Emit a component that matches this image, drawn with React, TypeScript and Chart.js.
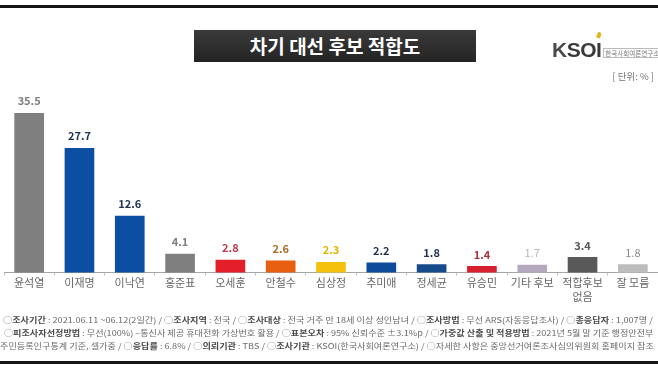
import React, { useEffect, useLayoutEffect, useRef } from "react";
import { Chart, registerables } from "chart.js";

Chart.register(...registerables);

const categories: (string | string[])[] = [
  "윤석열", "이재명", "이낙연", "홍준표", "오세훈", "안철수", "심상정",
  "추미애", "정세균", "유승민", "기타 후보", ["적합후보", "없음"], "잘 모름",
];
const values = [35.5, 27.7, 12.6, 4.1, 2.8, 2.6, 2.3, 2.2, 1.8, 1.4, 1.7, 3.4, 1.8];
const barColors = [
  "#7f7f7f", "#0b4ea2", "#0b4ea2", "#7f7f7f", "#e3202a", "#e8600f", "#f4c20d",
  "#0e4c9b", "#174a8b", "#d7202e", "#b4a9bc", "#595959", "#bdbdbd",
];
const labelColors = [
  "#7f7f7f", "#1f3050", "#1f3050", "#7f7f7f", "#c0394a", "#b06a1e", "#e3b300",
  "#1f3050", "#1f3050", "#b0303e", "#b8b8b8", "#595959", "#8c8c8c",
];
const labelBold = [true, true, true, true, true, true, true, true, true, true, false, true, false];
const yMax = 40;

const titleText = "차기 대선 후보 적합도";
const unitText = "[ 단위: % ]";

type Seg = [string, boolean];
const footerLines: Seg[][] = [
  [
    ["○", false], ["조사기간", true], [" : 2021.06.11 ~06.12(2일간)  /  ○", false],
    ["조사지역", true], [" : 전국 / ○", false], ["조사대상", true],
    [" : 전국 거주 만 18세 이상 성인남녀 / ○", false], ["조사방법", true],
    [" : 무선 ARS(자동응답조사) / ○", false], ["총응답자", true], [" : 1,007명 /", false],
  ],
  [
    ["○", false], ["피조사자선정방법", true], [" : 무선(100%) –통신사 제공 휴대전화 가상번호 활용 / ○", false],
    ["표본오차", true], [" : 95% 신뢰수준 ±3.1%p / ○", false], ["가중값 산출 및 적용방법", true],
    [" : 2021년 5월 말 기준 행정안전부", false],
  ],
  [
    ["주민등록인구통계 기준, 셀가중 / ○", false], ["응답률", true], [" : 6.8% / ○", false],
    ["의뢰기관", true], [" : TBS / ○", false], ["조사기관", true],
    [" : KSOI(한국사회여론연구소) / ○자세한 사항은 중앙선거여론조사심의위원회 홈페이지 참조", false],
  ],
];
const footerLayout = [
  { left: 3, top: 314, width: 650 },
  { left: 4, top: 327, width: 649 },
  { left: 0, top: 340, width: 654 },
];

const FONT = "'Noto Sans CJK KR', 'Noto Sans', sans-serif";

const valueLabelPlugin = {
  id: "valueLabels",
  afterDatasetsDraw(chart: any) {
    const ctx = chart.ctx;
    const meta = chart.getDatasetMeta(0);
    ctx.save();
    ctx.textAlign = "center";
    ctx.textBaseline = "middle";
    meta.data.forEach((bar: any, i: number) => {
      ctx.font = `${labelBold[i] ? "bold " : ""}11px ${FONT}`;
      ctx.fillStyle = labelColors[i];
      ctx.fillText(values[i].toFixed(1), bar.x, bar.y - 12);
    });
    ctx.restore();
  },
};

export default function App() {
  const canvasRef = useRef<HTMLCanvasElement>(null);
  const lineRefs = useRef<(HTMLDivElement | null)[]>([]);

  useEffect(() => {
    if (!canvasRef.current) return;
    const chart = new Chart(canvasRef.current, {
      type: "bar",
      data: {
        labels: categories as any,
        datasets: [
          {
            data: values,
            backgroundColor: barColors,
            barThickness: 29,
            borderWidth: 0,
          },
        ],
      },
      options: {
        responsive: false,
        animation: false,
        layout: { padding: { top: 93, left: 4, right: 0, bottom: 65 } },
        plugins: { legend: { display: false }, tooltip: { enabled: false } },
        scales: {
          x: {
            grid: { display: true, drawOnChartArea: false, drawTicks: true, tickLength: 3, color: "#c4c4c4" },
            border: { display: true, color: "#a6a6a6", width: 1 },
            ticks: {
              color: "#666666",
              padding: 1,
              font: { family: FONT, size: 11 },
              maxRotation: 0,
              autoSkip: false,
            },
          },
          y: { display: false, min: 0, max: yMax },
        },
      },
      plugins: [valueLabelPlugin],
    });
    return () => chart.destroy();
  }, []);

  useLayoutEffect(() => {
    lineRefs.current.forEach((el, i) => {
      if (!el) return;
      el.style.transform = "none";
      const w = el.scrollWidth;
      if (w > 0) el.style.transform = `scaleX(${footerLayout[i].width / w})`;
    });
  }, []);

  return (
    <div style={{ position: "absolute", left: 0, top: 0, width: 658, height: 369, background: "#ffffff", overflow: "hidden", fontFamily: FONT }}>
      <div style={{ position: "absolute", left: 0, top: 5, width: 658, height: 3, background: "#151515" }} />
      <div style={{ position: "absolute", left: 0, top: 361, width: 658, height: 3, background: "#151515" }} />
      <canvas ref={canvasRef} width={658} height={369} style={{ position: "absolute", left: 0, top: 0 }} />
      <div
        style={{
          position: "absolute", left: 194, top: 30, width: 282, height: 32,
          background: "linear-gradient(#3a3a3a, #242424)", color: "#ffffff",
          fontWeight: 700, fontSize: 19, lineHeight: "32px", textAlign: "center",
        }}
      >
        {titleText}
      </div>
      <div style={{ position: "absolute", left: 552, top: 36, height: 24, display: "flex", alignItems: "flex-end" }}>
        <span style={{ fontFamily: "'Liberation Sans', Arial, sans-serif", fontWeight: 700, fontSize: 21, lineHeight: "21px", color: "#4a4a4a", letterSpacing: -0.5 }}>
          K<span style={{ color: "#3a3a3a" }}>SO</span><span style={{ color: "#3a3a3a", position: "relative" }}>I<span style={{ position: "absolute", left: 1, top: -6, width: 4, height: 6, background: "#e2b323", borderRadius: "3px 3px 0 0", transform: "rotate(20deg)" }} /></span>
        </span>
        <span style={{ marginLeft: 2, marginBottom: 2, fontSize: 6.5, lineHeight: "8px", color: "#777", border: "1px solid #bbb", padding: "0 1px", whiteSpace: "nowrap" }}>
          한국사회여론연구소
        </span>
      </div>
      <div style={{ position: "absolute", right: 4, top: 69, fontSize: 9.5, color: "#777", whiteSpace: "nowrap" }}>{unitText}</div>
      {footerLines.map((segs, i) => (
        <div
          key={i}
          ref={(el) => { lineRefs.current[i] = el; }}
          style={{
            position: "absolute", left: footerLayout[i].left, top: footerLayout[i].top,
            fontSize: 8, lineHeight: "11px", color: "#6a6a6a", whiteSpace: "nowrap",
            transformOrigin: "left center", display: "inline-block",
          }}
        >
          {segs.map(([t, b], j) => (
            <span key={j} style={{ fontWeight: b ? 700 : 400, color: b ? "#4a4a4a" : undefined }}>{t}</span>
          ))}
        </div>
      ))}
    </div>
  );
}
